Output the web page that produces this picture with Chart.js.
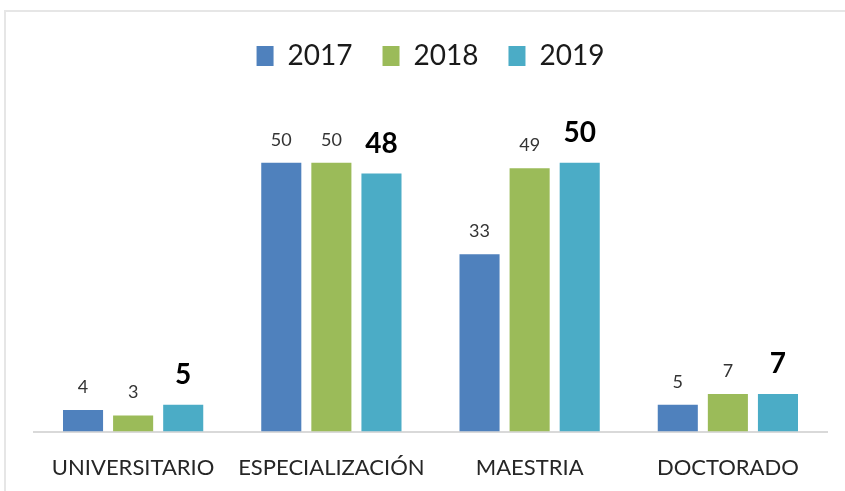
<!DOCTYPE html>
<html>
<head>
<meta charset="utf-8">
<script src="https://cdn.jsdelivr.net/npm/chart.js@4.4.1/dist/chart.umd.min.js"></script>
<style>
  html, body { margin: 0; padding: 0; background: #ffffff; }
  #wrap { position: relative; width: 845px; height: 491px; }
  #frame {
    position: absolute; left: 4px; top: 10px; width: 900px; height: 600px;
    border-left: 2px solid #e6e6e6; border-top: 2px solid #e6e6e6;
    pointer-events: none;
  }
</style>
</head>
<body>
<div id="wrap">
  <canvas id="chart" width="845" height="491"></canvas>
  <div id="frame"></div>
</div>
<script>
// categories and values per year
const categories = ["UNIVERSITARIO", "ESPECIALIZACIÓN", "MAESTRIA", "DOCTORADO"];
const years = ["2017", "2018", "2019"];
const values2017 = [4, 50, 33, 5];
const values2018 = [3, 50, 49, 7];
const values2019 = [5, 48, 50, 7];
const seriesColors = ["#4f81bd", "#9bbb59", "#4bacc6"];

const FONT = "Lato, 'Open Sans', sans-serif";

// draws the value above each bar
const barValueLabels = {
  id: "barValueLabels",
  afterDatasetsDraw(chart) {
    const ctx = chart.ctx;
    ctx.save();
    ctx.textAlign = "center";
    ctx.textBaseline = "bottom";
    chart.data.datasets.forEach((ds, i) => {
      const meta = chart.getDatasetMeta(i);
      const isLast = i === chart.data.datasets.length - 1;
      ctx.font = isLast ? `bold 28px ${FONT}` : `18px ${FONT}`;
      ctx.fillStyle = isLast ? "#000000" : "#333333";
      meta.data.forEach((bar, j) => {
        ctx.fillText(String(ds.data[j]), bar.x, bar.y - (isLast ? 16 : 14));
      });
    });
    ctx.restore();
  }
};

// extra room between the legend and the bars
const legendGap = {
  id: "legendGap",
  beforeInit(chart) {
    const origFit = chart.legend.fit;
    chart.legend.fit = function () {
      origFit.call(this);
      this.height += 29;
    };
  }
};

const chart = new Chart(document.getElementById("chart").getContext("2d"), {
  type: "bar",
  data: {
    labels: categories,
    datasets: [
      { label: years[0], data: values2017, backgroundColor: seriesColors[0] },
      { label: years[1], data: values2018, backgroundColor: seriesColors[1] },
      { label: years[2], data: values2019, backgroundColor: seriesColors[2] },
    ].map(d => ({ ...d, barPercentage: 0.8, categoryPercentage: 0.758 })),
  },
  options: {
    responsive: false,
    animation: false,
    layout: { padding: { left: 34, right: 18, top: 12, bottom: -5 } },
    plugins: {
      legend: {
        position: "top",
        labels: {
          boxWidth: 17,
          boxHeight: 20,
          padding: 30,
          color: "#1a1a1a",
          font: { family: FONT, size: 28 },
        },
      },
      tooltip: { enabled: false },
    },
    scales: {
      x: {
        grid: { display: false },
        border: { display: true, color: "#d9d9d9", width: 2 },
        ticks: {
          color: "#262626",
          font: { family: FONT, size: 22 },
          padding: 15,
          maxRotation: 0,
          autoSkip: false,
        },
      },
      y: {
        display: false,
        min: 0,
        max: 60,
      },
    },
  },
  plugins: [legendGap, barValueLabels],
});
</script>
</body>
</html>
